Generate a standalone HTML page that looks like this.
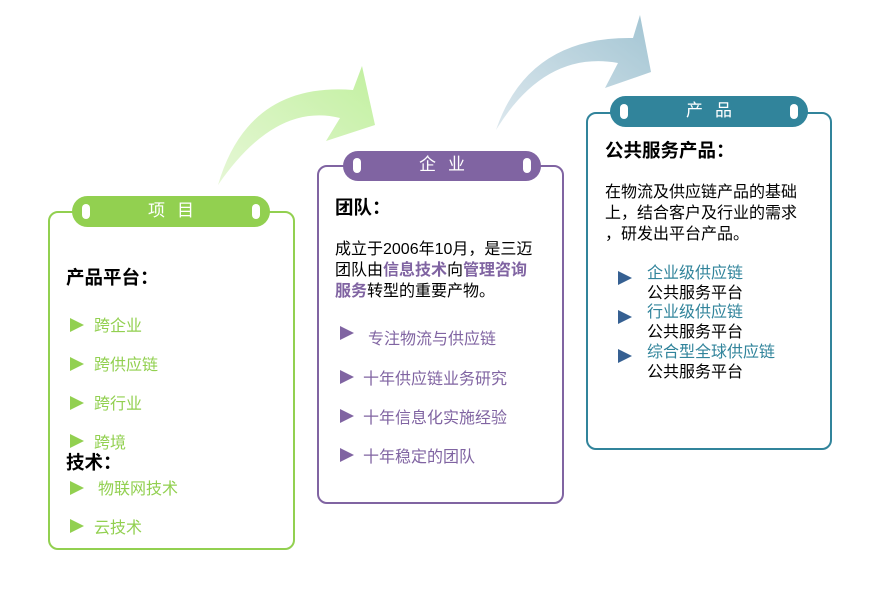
<!DOCTYPE html>
<html><head><meta charset="utf-8"><style>
body{margin:0;width:869px;height:595px;background:#fff;position:relative;overflow:hidden;font-family:"Liberation Sans","Noto Sans CJK SC",sans-serif;}
.a{position:absolute;white-space:nowrap;}
.box{position:absolute;border:2px solid;border-radius:10px;box-sizing:border-box;background:#fff;}
.tab{position:absolute;border-radius:16px;color:#fff;font-size:17px;text-align:center;box-sizing:border-box;letter-spacing:12px;}
.tab i{position:absolute;top:8px;width:8px;height:15px;border-radius:4px;background:#fff;}
.h{font-size:18.5px;font-weight:bold;color:#000;font-family:"Noto Sans CJK SC",sans-serif;}
.t{font-size:16px;}
.tri{position:absolute;width:0;height:0;border-top:7px solid transparent;border-bottom:7px solid transparent;border-left:14px solid;}
</style></head><body>
<svg class="a" style="left:0;top:0" width="869" height="595">
<defs>
<linearGradient id="g1" x1="0" y1="1" x2="1" y2="0"><stop offset="0" stop-color="#e6f7d6"/><stop offset="1" stop-color="#c2f0a0"/></linearGradient>
<linearGradient id="g2" x1="0" y1="1" x2="1" y2="0"><stop offset="0" stop-color="#dde8ee"/><stop offset="1" stop-color="#a3c5d3"/></linearGradient>
</defs>
<path d="M218,185 Q248,82 353,90 L362,66 L375,125 L326,141 L340,118 Q275,102 218,185Z" fill="url(#g1)"/>
<path d="M496,130 Q528,36 633,38 L640,15 L651,72 L605,88 L618,63 Q545,50 496,130Z" fill="url(#g2)"/>
</svg>

<div class="box" style="left:48px;top:211px;width:247px;height:339px;border-color:#92d050"></div>
<div class="tab" style="left:72px;top:196px;width:198px;height:31px;background:#92d050;line-height:29px;padding-left:12px">项目<i style="left:10px"></i><i style="right:10px"></i></div>
<div class="a h" style="left:66px;top:264px">产品平台：</div>
<div class="tri" style="left:70px;top:318px;color:#92d050"></div><div class="a t" style="left:94px;top:312px;color:#92d050">跨企业</div>
<div class="tri" style="left:70px;top:357px;color:#92d050"></div><div class="a t" style="left:94px;top:351px;color:#92d050">跨供应链</div>
<div class="tri" style="left:70px;top:396px;color:#92d050"></div><div class="a t" style="left:94px;top:390px;color:#92d050">跨行业</div>
<div class="tri" style="left:70px;top:434px;color:#92d050"></div><div class="a t" style="left:94px;top:429px;color:#92d050">跨境</div>
<div class="a h" style="left:66px;top:449px">技术：</div>
<div class="tri" style="left:70px;top:481px;color:#92d050"></div><div class="a t" style="left:98px;top:475px;color:#92d050">物联网技术</div>
<div class="tri" style="left:70px;top:519px;color:#92d050"></div><div class="a t" style="left:94px;top:514px;color:#92d050">云技术</div>

<div class="box" style="left:317px;top:165px;width:247px;height:339px;border-color:#8064a2"></div>
<div class="tab" style="left:343px;top:151px;width:198px;height:30px;background:#8064a2;line-height:28px;padding-left:12px">企业<i style="left:10px;top:7px"></i><i style="right:10px;top:7px"></i></div>
<div class="a h" style="left:335px;top:194px">团队：</div>
<div class="a t" style="left:335px;top:239px;line-height:21px;color:#000">成立于2006年10月，是三迈<br>团队由<b style="color:#8064a2">信息技术</b>向<b style="color:#8064a2">管理咨询</b><br><b style="color:#8064a2">服务</b>转型的重要产物。</div>
<div class="tri" style="left:340px;top:326px;color:#8064a2"></div><div class="a t" style="left:368px;top:325px;color:#8064a2">专注物流与供应链</div>
<div class="tri" style="left:340px;top:370px;color:#8064a2"></div><div class="a t" style="left:363px;top:365px;color:#8064a2">十年供应链业务研究</div>
<div class="tri" style="left:340px;top:409px;color:#8064a2"></div><div class="a t" style="left:363px;top:404px;color:#8064a2">十年信息化实施经验</div>
<div class="tri" style="left:340px;top:448px;color:#8064a2"></div><div class="a t" style="left:363px;top:443px;color:#8064a2">十年稳定的团队</div>

<div class="box" style="left:586px;top:112px;width:246px;height:338px;border-color:#31849b"></div>
<div class="tab" style="left:610px;top:96px;width:198px;height:31px;background:#31849b;line-height:29px;padding-left:12px">产品<i style="left:10px"></i><i style="right:10px"></i></div>
<div class="a h" style="left:605px;top:137px">公共服务产品：</div>
<div class="a t" style="left:605px;top:182px;line-height:21px;color:#000">在物流及供应链产品的基础<br>上，结合客户及行业的需求<br>，研发出平台产品。</div>
<div class="tri" style="left:618px;top:271px;color:#366092"></div>
<div class="tri" style="left:618px;top:310px;color:#366092"></div>
<div class="tri" style="left:618px;top:349px;color:#366092"></div>
<div class="a t" style="left:647px;top:264px;line-height:19.7px;color:#000"><span style="color:#31849b">企业级供应链</span><br>公共服务平台<br><span style="color:#31849b">行业级供应链</span><br>公共服务平台<br><span style="color:#31849b">综合型全球供应链</span><br>公共服务平台</div>
</body></html>
